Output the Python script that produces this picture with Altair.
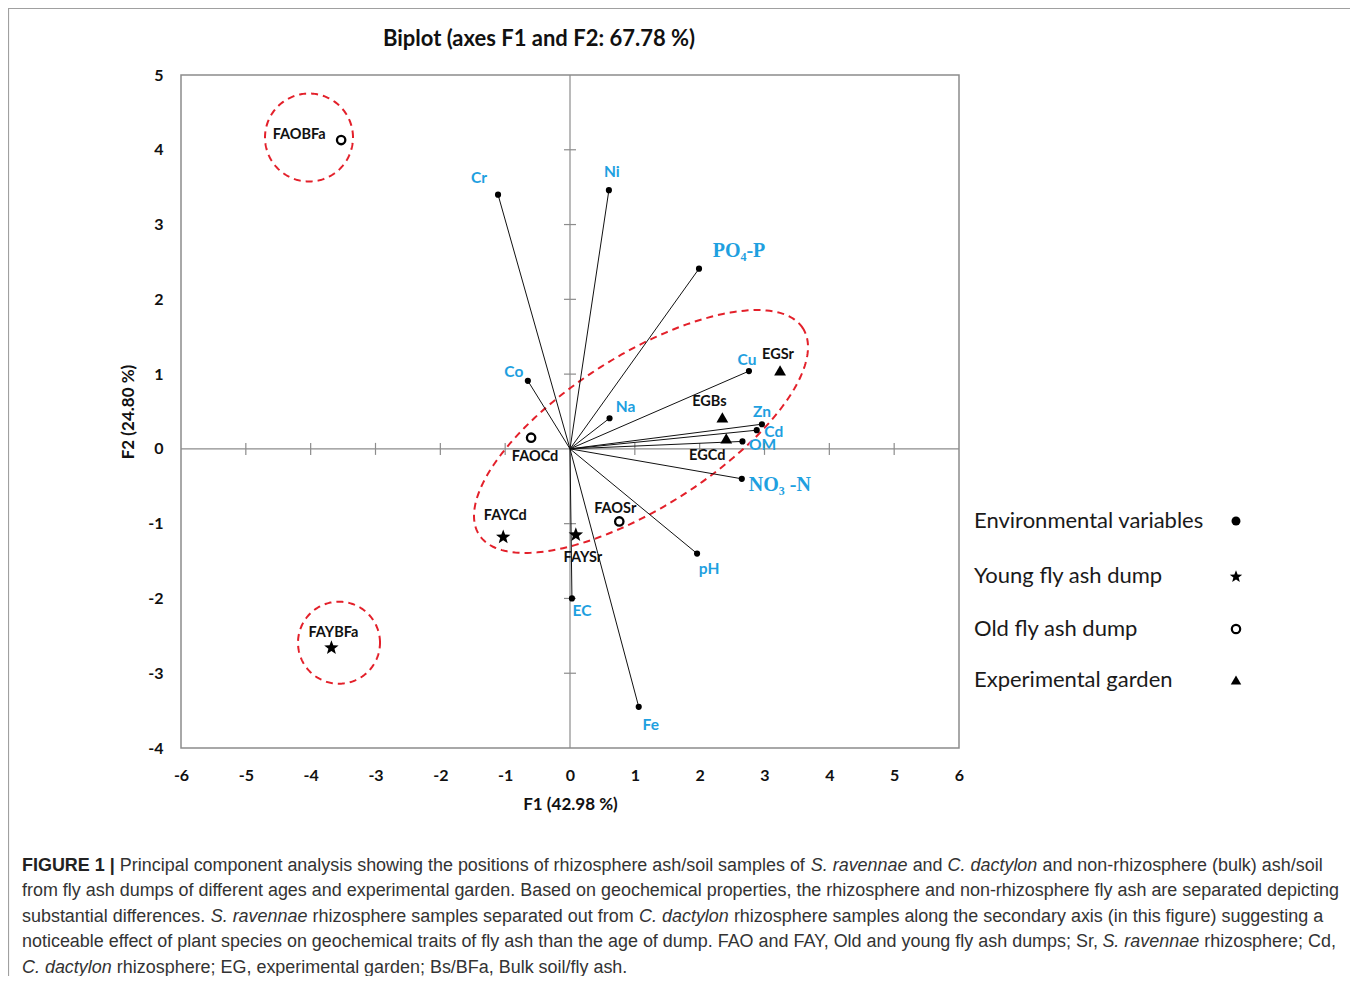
import math
import altair as alt
import pandas as pd

# ---------------- data ----------------
env_names = ["Cr", "Ni", "PO4-P", "Cu", "Co", "Na", "Zn", "Cd", "OM", "NO3-N", "pH", "EC", "Fe"]
env_text = ["Cr", "Ni", "PO₄-P", "Cu", "Co", "Na", "Zn", "Cd", "OM", "NO₃ -N", "pH", "EC", "Fe"]
env_f1 = [-1.11, 0.60, 1.99, 2.76, -0.65, 0.61, 2.96, 2.88, 2.66, 2.65, 1.96, 0.03, 1.06]
env_f2 = [3.40, 3.46, 2.41, 1.04, 0.91, 0.41, 0.33, 0.25, 0.10, -0.40, -1.40, -2.00, -3.45]

sample_names = ["FAOBFa", "FAOCd", "FAOSr", "FAYCd", "FAYSr", "FAYBFa", "EGSr", "EGBs", "EGCd"]
sample_group = ["old", "old", "old", "young", "young", "young", "garden", "garden", "garden"]
sample_f1 = [-3.53, -0.60, 0.76, -1.03, 0.09, -3.68, 3.24, 2.35, 2.41]
sample_f2 = [4.13, 0.15, -0.97, -1.17, -1.14, -2.65, 1.05, 0.42, 0.14]

legend_labels = ["Environmental variables", "Young fly ash dump", "Old fly ash dump", "Experimental garden"]

title_text = "Biplot (axes F1 and F2: 67.78 %)"
x_title = "F1 (42.98 %)"
y_title = "F2 (24.80 %)"

caption_segments = [
    [("FIGURE 1 |", "bold"), ("Principal component analysis showing the positions of rhizosphere ash/soil samples of", "normal"),
     ("S. ravennae", "italic"), ("and", "normal"), ("C. dactylon", "italic"), ("and non-rhizosphere (bulk) ash/soil", "normal")],
    [("from fly ash dumps of different ages and experimental garden. Based on geochemical properties, the rhizosphere and non-rhizosphere fly ash are separated depicting", "normal")],
    [("substantial differences.", "normal"), ("S. ravennae", "italic"), ("rhizosphere samples separated out from", "normal"),
     ("C. dactylon", "italic"), ("rhizosphere samples along the secondary axis (in this figure) suggesting a", "normal")],
    [("noticeable effect of plant species on geochemical traits of fly ash than the age of dump. FAO and FAY, Old and young fly ash dumps; Sr,", "normal"),
     ("S. ravennae", "italic"), ("rhizosphere; Cd,", "normal")],
    [("C. dactylon", "italic"), ("rhizosphere; EG, experimental garden; Bs/BFa, Bulk soil/fly ash.", "normal")],
]

# ---------------- layout (pixels) ----------------
W, H = 778, 673
PAD_L, PAD_T = 173, 67
TOTAL_W, TOTAL_H = 1342, 968
X_DOMAIN = [-6, 6]
Y_DOMAIN = [-4, 5]
SX = W / (X_DOMAIN[1] - X_DOMAIN[0])
SY = H / (Y_DOMAIN[1] - Y_DOMAIN[0])
ORIGIN_X, ORIGIN_Y = 8 + PAD_L, 8 + PAD_T


def page_x(px):
    return X_DOMAIN[0] + (px - ORIGIN_X) / SX


def page_y(py):
    return Y_DOMAIN[1] - (py - ORIGIN_Y) / SY


# label offsets in pixels (right, down)
env_label_off = [(-19, -17), (3, -18), (40, -18), (-2, -11), (-14, -9), (16, -11), (0, -12),
                 (17, 2), (20, 4), (38, 6), (12, 15), (10, 13), (12, 18)]
sample_label_off = [(-42, -5), (4, 19), (-4, -12), (2, -20), (7, 24), (2, -14), (-2, -15), (-13, -15), (-19, 18)]

# dashed ellipses: centre (page px), semi axes (px), angle (deg)
ellipses = [((641, 431.5), 192, 76, 32.5), ((309, 137.5), 44, 44, 0), ((339, 642.7), 41, 41, 0)]

legend_text_x = 974
legend_sym_x = 1236
legend_y = [521, 576, 629, 680]

caption_left = 22
caption_line2_width = 1319
caption_y0, caption_dy = 866, 25.4
# small per-line shifts (px) applied to segments after the first (kerning not in the width table)
caption_nudge = [0, 0, 0, -9, 0]

BLUE = "#1ea0e0"
RED = "#e3202a"
GRAY = "#8c8c8c"
SANS = "Lato"
CAP_FONT = "Liberation Sans"

# Arial / Liberation Sans advance widths (1/1000 em) used to chain caption segments
_REG = {" ": 278, "(": 333, ")": 333, ",": 278, "-": 333, ".": 278, "/": 278, ":": 278, ";": 278, "|": 260,
        "A": 667, "B": 667, "C": 722, "D": 722, "E": 667, "F": 611, "G": 778, "H": 722, "I": 278, "J": 500,
        "K": 667, "L": 556, "M": 833, "N": 722, "O": 778, "P": 667, "Q": 778, "R": 722, "S": 667, "T": 611,
        "U": 722, "V": 667, "W": 944, "X": 667, "Y": 667, "Z": 611,
        "a": 556, "b": 556, "c": 500, "d": 556, "e": 556, "f": 278, "g": 556, "h": 556, "i": 222, "j": 222,
        "k": 500, "l": 222, "m": 833, "n": 556, "o": 556, "p": 556, "q": 556, "r": 333, "s": 500, "t": 278,
        "u": 556, "v": 500, "w": 722, "x": 500, "y": 500, "z": 500}
_BOLD = {" ": 278, "|": 280, "1": 556, "F": 611, "I": 278, "G": 778, "U": 722, "R": 722, "E": 667}


def text_units(s, bold=False):
    tab = _BOLD if bold else _REG
    return sum(tab.get(ch, _REG.get(ch, 556)) for ch in s)


CAP_SIZE = caption_line2_width * 1000 / text_units(caption_segments[1][0][0])

# five-pointed star symbol as an SVG path in the unit square
_pts = []
for k in range(10):
    r = 1.0 if k % 2 == 0 else 0.42
    a = math.radians(-90 + 36 * k)
    _pts.append(f"{r * math.cos(a):.3f},{r * math.sin(a) + 0.1:.3f}")
STAR = "M" + " L".join(_pts) + " Z"

# ---------------- scales / axes ----------------
XS = alt.Scale(domain=X_DOMAIN, nice=False, zero=False)
YS = alt.Scale(domain=Y_DOMAIN, nice=False, zero=False)
x_axis = alt.Axis(values=list(range(-6, 7)), title=x_title, grid=False, domain=False, ticks=False,
                  labelFont=SANS, labelFontSize=16, labelFontWeight="bold", labelColor="#111",
                  labelPadding=19, labelFlush=False, labelOverlap=False, labelExpr="'' + datum.value",
                  titleFont=SANS, titleFontSize=17, titleFontWeight="bold", titleColor="#111", titlePadding=13)
y_axis = alt.Axis(values=list(range(-4, 6)), title=y_title, grid=False, domain=False, ticks=False,
                  labelFont=SANS, labelFontSize=16, labelFontWeight="bold", labelColor="#111",
                  labelPadding=18, labelFlush=False, labelOverlap=False, labelExpr="'' + datum.value",
                  titleFont=SANS, titleFontSize=17, titleFontWeight="bold", titleColor="#111", titlePadding=10)


def X(f):
    return alt.X(f, type="quantitative", scale=XS, axis=x_axis)


def Y(f):
    return alt.Y(f, type="quantitative", scale=YS, axis=y_axis)


# ---------------- tables ----------------
env_df = pd.DataFrame({"name": env_names, "label": env_text, "x": env_f1, "y": env_f2, "x0": 0.0, "y0": 0.0})
env_df["lx"] = [x + o[0] / SX for x, o in zip(env_f1, env_label_off)]
env_df["ly"] = [y - o[1] / SY for y, o in zip(env_f2, env_label_off)]
env_df["serif"] = env_df["name"].isin(["PO4-P", "NO3-N"])

smp_df = pd.DataFrame({"name": sample_names, "group": sample_group, "x": sample_f1, "y": sample_f2})
smp_df["lx"] = [x + o[0] / SX for x, o in zip(sample_f1, sample_label_off)]
smp_df["ly"] = [y - o[1] / SY for y, o in zip(sample_f2, sample_label_off)]

rows = []
for i, ((cx, cy), a, b, ang) in enumerate(ellipses):
    th = math.radians(ang)
    for k in range(241):
        t = 2 * math.pi * k / 240
        ex = a * math.cos(t) * math.cos(th) - b * math.sin(t) * math.sin(th)
        ey = a * math.cos(t) * math.sin(th) + b * math.sin(t) * math.cos(th)
        rows.append({"id": i, "k": k, "x": page_x(cx) + ex / SX, "y": page_y(cy) + ey / SY})
ell_df = pd.DataFrame(rows)

zero_df = pd.DataFrame({"x": [X_DOMAIN[0], 0], "x2": [X_DOMAIN[1], 0], "y": [0, Y_DOMAIN[0]], "y2": [0, Y_DOMAIN[1]]})
tick_rows = []
for v in range(X_DOMAIN[0] + 1, X_DOMAIN[1]):
    if v != 0:
        tick_rows.append({"x": v, "x2": v, "y": -6 / SY, "y2": 6 / SY})
for v in range(Y_DOMAIN[0] + 1, Y_DOMAIN[1]):
    if v != 0:
        tick_rows.append({"x": -6 / SX, "x2": 6 / SX, "y": v, "y2": v})
tick_df = pd.DataFrame(tick_rows)

frame_df = pd.DataFrame({"x": [page_x(8.5)], "x2": [page_x(1351)], "y": [page_y(8.5)], "y2": [page_y(1010)]})

leg_df = pd.DataFrame({"label": legend_labels, "x": page_x(legend_text_x),
                       "y": [page_y(v) for v in legend_y], "sx": page_x(legend_sym_x)})

cap_rows = []
for li, segs in enumerate(caption_segments):
    px = caption_left
    for si, (txt, style) in enumerate(segs):
        shift = caption_nudge[li] if si > 0 else 0
        cap_rows.append({"txt": txt, "style": style, "x": page_x(px + shift),
                         "y": page_y(caption_y0 + li * caption_dy)})
        px += (text_units(txt, style == "bold") + _REG[" "]) * CAP_SIZE / 1000
cap_df = pd.DataFrame(cap_rows)

title_df = pd.DataFrame({"txt": [title_text], "x": [page_x(539)], "y": [page_y(39)]})

# ---------------- layers ----------------
frame = alt.Chart(frame_df).mark_rect(fillOpacity=0, stroke="#a0a0a0", strokeWidth=1.2).encode(
    x=X("x"), x2="x2", y=Y("y"), y2="y2")
zero = alt.Chart(zero_df).mark_rule(color=GRAY, strokeWidth=1.2).encode(x=X("x"), x2="x2", y=Y("y"), y2="y2")
ticks = alt.Chart(tick_df).mark_rule(color=GRAY, strokeWidth=1.2).encode(x=X("x"), x2="x2", y=Y("y"), y2="y2")
ell = alt.Chart(ell_df).mark_line(color=RED, strokeWidth=2, strokeDash=[7, 5]).encode(
    x=X("x"), y=Y("y"), detail="id:N", order="k:Q")
vectors = alt.Chart(env_df).mark_rule(color="#111", strokeWidth=1).encode(x=X("x0"), y=Y("y0"), x2="x", y2="y")
env_pts = alt.Chart(env_df).mark_point(shape="circle", filled=True, size=38, color="#000", opacity=1).encode(
    x=X("x"), y=Y("y"))
env_lbl = alt.Chart(env_df).transform_filter("!datum.serif").mark_text(
    font=SANS, fontWeight="bold", fontSize=15.5, color=BLUE, align="center", baseline="middle").encode(
    x=X("lx"), y=Y("ly"), text="label:N")
env_lbl2 = alt.Chart(env_df).transform_filter("datum.serif").mark_text(
    font="Liberation Serif", fontWeight="bold", fontSize=20, color=BLUE, align="center", baseline="middle").encode(
    x=X("lx"), y=Y("ly"), text="label:N")

stars = alt.Chart(smp_df).transform_filter("datum.group == 'young'").mark_point(
    shape=STAR, filled=True, size=230, color="#000", opacity=1).encode(x=X("x"), y=Y("y"))
circles = alt.Chart(smp_df).transform_filter("datum.group == 'old'").mark_point(
    shape="circle", filled=False, size=70, color="#000", strokeWidth=2.3, opacity=1).encode(x=X("x"), y=Y("y"))
tris = alt.Chart(smp_df).transform_filter("datum.group == 'garden'").mark_point(
    shape="triangle-up", filled=True, size=140, color="#000", opacity=1).encode(x=X("x"), y=Y("y"))
smp_lbl = alt.Chart(smp_df).mark_text(font=SANS, fontWeight="bold", fontSize=14.5, color="#111",
                                      align="center", baseline="middle").encode(x=X("lx"), y=Y("ly"), text="name:N")

leg_txt = alt.Chart(leg_df).mark_text(font=SANS, fontSize=22, color="#1a1a1a", align="left", baseline="middle").encode(
    x=X("x"), y=Y("y"), text="label:N")
leg_shapes = ["circle", STAR, "circle", "triangle-up"]
leg_filled = [True, True, False, True]
leg_sizes = [80, 170, 70, 110]
leg_layers = []
for i, (shp, fl, sz) in enumerate(zip(leg_shapes, leg_filled, leg_sizes)):
    leg_layers.append(
        alt.Chart(leg_df.iloc[[i]].reset_index(drop=True)).mark_point(
            shape=shp, filled=fl, size=sz, color="#000", opacity=1,
            strokeWidth=2.2 if not fl else 1).encode(x=X("sx"), y=Y("y")))

title = alt.Chart(title_df).mark_text(font=SANS, fontWeight="bold", fontSize=22, color="#111",
                                      align="center", baseline="middle").encode(x=X("x"), y=Y("y"), text="txt:N")

cap_layers = []
for style in ["normal", "italic", "bold"]:
    kw = dict(font=CAP_FONT, fontSize=round(CAP_SIZE, 2), color="#333", align="left", baseline="middle")
    if style == "italic":
        kw["fontStyle"] = "italic"
    if style == "bold":
        kw["fontWeight"] = "bold"
        kw["color"] = "#222"
    cap_layers.append(alt.Chart(cap_df).transform_filter(f"datum.style == '{style}'").mark_text(**kw).encode(
        x=X("x"), y=Y("y"), text="txt:N"))

chart = alt.layer(frame, zero, ticks, ell, vectors, env_pts, env_lbl, env_lbl2, stars, circles, tris, smp_lbl,
                  leg_txt, *leg_layers, title, *cap_layers).properties(
    width=W, height=H,
    autosize=alt.AutoSizeParams(type="none"),
    padding={"left": PAD_L, "top": PAD_T, "right": TOTAL_W - PAD_L - W, "bottom": TOTAL_H - PAD_T - H},
    background="white",
).configure_view(stroke=GRAY, strokeWidth=1.5)

chart.save("out.html", embed_options={"renderer": "svg", "actions": False})
